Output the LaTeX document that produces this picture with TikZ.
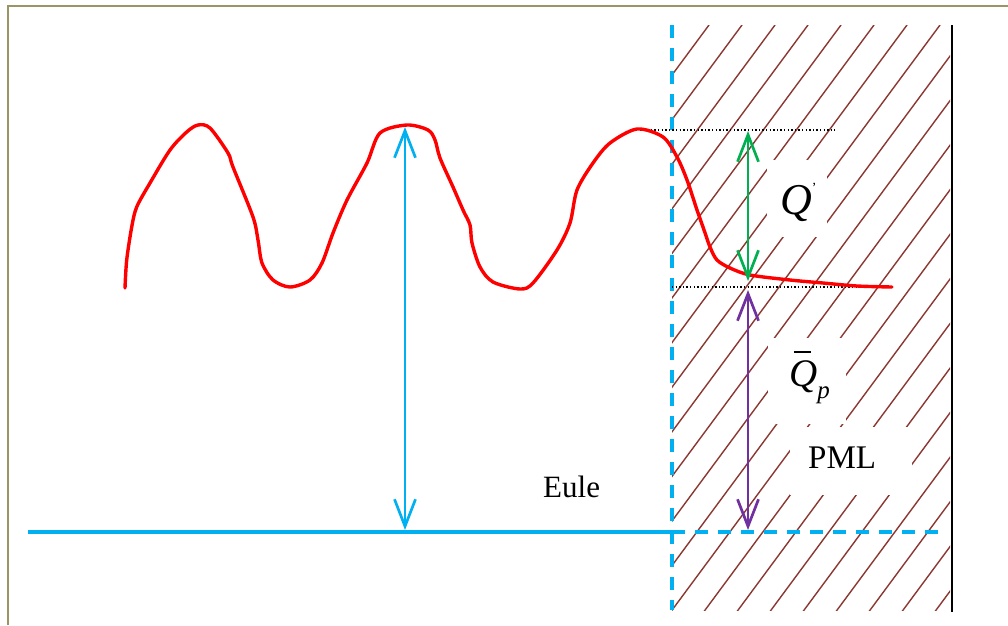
\documentclass[tikz,border=0pt]{standalone}
\usepackage{fontspec}
\setmainfont{Liberation Serif}
\usetikzlibrary{arrows.meta}
\definecolor{pblue}{RGB}{0,176,240}
\definecolor{pgreen}{RGB}{0,176,80}
\definecolor{ppurple}{RGB}{112,48,160}
\definecolor{hatchc}{RGB}{140,56,50}
\definecolor{framec}{RGB}{155,148,100}
\tikzset{
  frameline/.style={framec, line width=2.5pt},
  hatchline/.style={hatchc, line width=1.4pt},
  bluesolid/.style={pblue, line width=3.3pt},
  bluedash/.style={pblue, line width=3.3pt, dash pattern=on 13pt off 10pt},
  dotline/.style={black, line width=1.4pt, dash pattern=on 1.4pt off 2.2pt},
  wave/.style={red, line width=3.4pt, line cap=round, line join=round},
  dimarrow/.style={line width=2.7pt, {Straight Barb[length=27pt,width=21pt]}-{Straight Barb[length=27pt,width=21pt]}},
  lbl/.style={anchor=base west, inner sep=0pt, text=black}
}
\begin{document}
\begin{tikzpicture}[x=1pt,y=-1pt]
\useasboundingbox (0,0) rectangle (1008,625);
\fill[white] (0,0) rectangle (1008,625);
% frame
\draw[frameline] (8,625) -- (8,6) -- (1008,6);
% hatching of PML region
\begin{scope}
  \clip (672,25) rectangle (950,610);
  \foreach \i in {0,...,21} {
    \draw[hatchline] ({709+33*\i},25) -- ++(-444,600);
  }
\end{scope}
% gaps behind the labels
\fill[white] (767,160) rectangle (827,237);
\fill[white] (768,338) rectangle (846,424);
\fill[white] (790,427) rectangle (912,495);
% right boundary
\coordinate (rt) at (952,25);
\coordinate (rb) at (952,612);
\draw[black, line width=2.2pt] (rt) -- (rb);
% interface (dashed) and bottom line
\coordinate (vt) at (672,25);
\coordinate (vb) at (672,610);
\coordinate (hl) at (28,532);
\coordinate (hm) at (672,532);
\coordinate (hr) at (940,532);
\draw[bluedash] (vt) -- (vb);
\draw[bluesolid] (hl) -- (hm);
\draw[bluedash] (hm) -- (hr);
% dotted reference lines
\coordinate (d1a) at (640,130);
\coordinate (d1b) at (835,130);
\coordinate (d2a) at (672,287);
\coordinate (d2b) at (892,287);
\draw[dotline] (d1a) -- (d1b);
\draw[dotline] (d2a) -- (d2b);
% wave
\draw[wave] plot[smooth, tension=0.5] coordinates {
(125,288) (126.7,260) (131.7,227) (136.7,207) (150,183) (170,150) (186.7,132)
(198,125) (210,128) (228,153) (233,167) (253,217) (258,240) (262,263) (273,280)
(290,287) (310,280) (322,263) (333,233) (347,200) (367,163) (380,133) (407,125)
(428,130) (435,140) (440,158) (453,187) (463,210) (470,225) (472,243) (480,267)
(493,282) (520,289) (533,283) (557,250) (570,223) (577,190) (593,163) (610,143)
(637,129) (663,137) (677,157) (687,180) (697,210) (703,227) (710,247) (717,260)
(730,268) (750,275) (790,280) (823,283) (857,286) (892,287)};
% dimension arrows
\coordinate (bt) at (405,127);
\coordinate (bb) at (405,530);
\coordinate (gt) at (748,131);
\coordinate (gb) at (748,281);
\coordinate (pt) at (748,290);
\coordinate (pb) at (748,530);
\draw[dimarrow, pblue] (bt) -- (bb);
\draw[dimarrow, pgreen] (gt) -- (gb);
\draw[dimarrow, ppurple] (pt) -- (pb);
% labels
\node[lbl] (qprime) at (780,214) {\fontsize{44}{44}\selectfont\itshape Q\raisebox{22pt}{\fontsize{14}{14}\selectfont\upshape '}};
\node[lbl] (qbar) at (789,386) {\fontsize{39}{39}\selectfont\itshape\rlap{\kern0.12em\rule[0.84em]{0.45em}{0.055em}}Q\raisebox{-12pt}{\fontsize{25}{25}\selectfont p}};
\node[lbl] (pml) at (808,468) {\fontsize{33}{33}\selectfont PML};
\node[lbl] (eule) at (543,497) {\fontsize{31}{31}\selectfont Eule};
\end{tikzpicture}
\end{document}
